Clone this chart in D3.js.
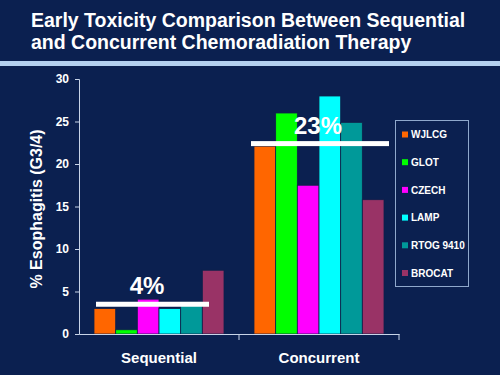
<!DOCTYPE html>
<html>
<head>
<meta charset="utf-8">
<script src="https://cdn.jsdelivr.net/npm/d3@7"></script>
<style>
  body { margin: 0; background: #0b2050; }
  svg { display: block; font-family: Arial, "Liberation Sans", sans-serif; }
</style>
</head>
<body>
<div id="container"></div>
<script>
// chart values
const categories = ["Sequential", "Concurrent"];
const trials = ["WJLCG", "GLOT", "CZECH", "LAMP", "RTOG 9410", "BROCAT"];
const trialColors = ["#ff6600", "#00ff00", "#ff00ff", "#00ffff", "#009999", "#993366"];
const sequentialValues = [3.0, 0.5, 4.1, 3.0, 3.8, 7.5];
const concurrentValues = [22.1, 26.0, 17.5, 28.0, 24.9, 15.8];
const averages = [3.5, 22.4];
const averageLabels = ["4%", "23%"];
const yTicks = [0, 5, 10, 15, 20, 25, 30];
const titleLines = ["Early Toxicity Comparison Between Sequential", "and Concurrent Chemoradiation Therapy"];

const W = 500, H = 375;
const svg = d3.select('#container').append('svg')
  .attr('width', W).attr('height', H);

svg.append('rect').attr('width', W).attr('height', H).attr('fill', '#0b2050');

// title
svg.append('text')
  .attr('fill', '#ffffff')
  .attr('font-weight', 'bold')
  .attr('font-size', 19.5)
  .selectAll('tspan').data(titleLines).join('tspan')
  .attr('x', 31)
  .attr('y', (d, i) => 27 + i * 22)
  .text(d => d);

// separator bar under the title
svg.append('rect').attr('x', 0).attr('y', 61).attr('width', W).attr('height', 5).attr('fill', '#b4d0f0');

const series = [sequentialValues, concurrentValues];

const y = d3.scaleLinear().domain([0, 30]).range([334, 79]);
const x0 = d3.scaleBand().domain(categories).range([79, 399]);
const x1 = d3.scaleBand().domain(trials).range([15, 145]);

// y axis
const yAxis = svg.append('g')
  .attr('transform', 'translate(79,0)')
  .call(d3.axisLeft(y).tickValues(yTicks).tickSize(4).tickPadding(6));
yAxis.select('.domain').attr('stroke', '#c8d4e8');
yAxis.selectAll('.tick line').attr('stroke', '#c8d4e8');
yAxis.selectAll('.tick text')
  .attr('fill', '#ffffff').attr('font-size', 12).attr('font-weight', 'bold')
  .attr('font-family', 'Arial, "Liberation Sans", sans-serif');

svg.append('text')
  .attr('transform', 'translate(42,209) rotate(-90)')
  .attr('text-anchor', 'middle')
  .attr('fill', '#ffffff').attr('font-size', 16).attr('font-weight', 'bold')
  .text('% Esophagitis (G3/4)');

// bars
const groups = svg.append('g').selectAll('g').data(categories).join('g')
  .attr('transform', d => `translate(${x0(d)},0)`);

groups.selectAll('rect')
  .data((c, ci) => trials.map((t, i) => ({ trial: t, value: series[ci][i], color: trialColors[i] })))
  .join('rect')
  .attr('x', d => x1(d.trial))
  .attr('width', x1.bandwidth())
  .attr('y', d => y(d.value))
  .attr('height', d => y(0) - y(d.value))
  .attr('fill', d => d.color)
  .attr('stroke', '#10204a')
  .attr('stroke-width', 0.8);

// x axis
const xAxis = svg.append('g')
  .attr('transform', 'translate(0,334)')
  .call(d3.axisBottom(x0).tickSize(0).tickPadding(18));
xAxis.select('.domain').attr('stroke', '#c8d4e8');
xAxis.selectAll('.tick text')
  .attr('fill', '#ffffff').attr('font-size', 15).attr('font-weight', 'bold')
  .attr('font-family', 'Arial, "Liberation Sans", sans-serif');
// tick marks at band boundaries
svg.append('g').selectAll('line').data(categories).join('line')
  .attr('x1', d => x0(d) + x0.bandwidth()).attr('x2', d => x0(d) + x0.bandwidth())
  .attr('y1', 334).attr('y2', 340)
  .attr('stroke', '#c8d4e8');

// average lines and labels
const avgX = [[96, 209], [251, 389]];
svg.append('g').selectAll('rect').data(averages).join('rect')
  .attr('x', (d, i) => avgX[i][0])
  .attr('width', (d, i) => avgX[i][1] - avgX[i][0])
  .attr('y', d => y(d) - 2.5)
  .attr('height', 5)
  .attr('fill', '#ffffff');

svg.append('g').selectAll('text').data(averages).join('text')
  .attr('x', (d, i) => [147, 318][i])
  .attr('y', d => y(d) - 10)
  .attr('text-anchor', 'middle')
  .attr('fill', '#ffffff').attr('font-size', 24).attr('font-weight', 'bold')
  .text((d, i) => averageLabels[i]);

// legend
const legend = svg.append('g');
legend.append('rect')
  .attr('x', 395.5).attr('y', 120.5).attr('width', 73).attr('height', 166)
  .attr('fill', 'none').attr('stroke', '#8fa8cc').attr('stroke-width', 1);
const items = legend.selectAll('g').data(trials).join('g')
  .attr('transform', (d, i) => `translate(402,${134.5 + i * 27.7})`);
items.append('rect')
  .attr('x', 0).attr('y', -3).attr('width', 6).attr('height', 6)
  .attr('fill', (d, i) => trialColors[i]);
items.append('text')
  .attr('x', 9).attr('y', 3.6)
  .attr('fill', '#ffffff').attr('font-size', 10).attr('font-weight', 'bold')
  .text(d => d);
</script>
</body>
</html>
